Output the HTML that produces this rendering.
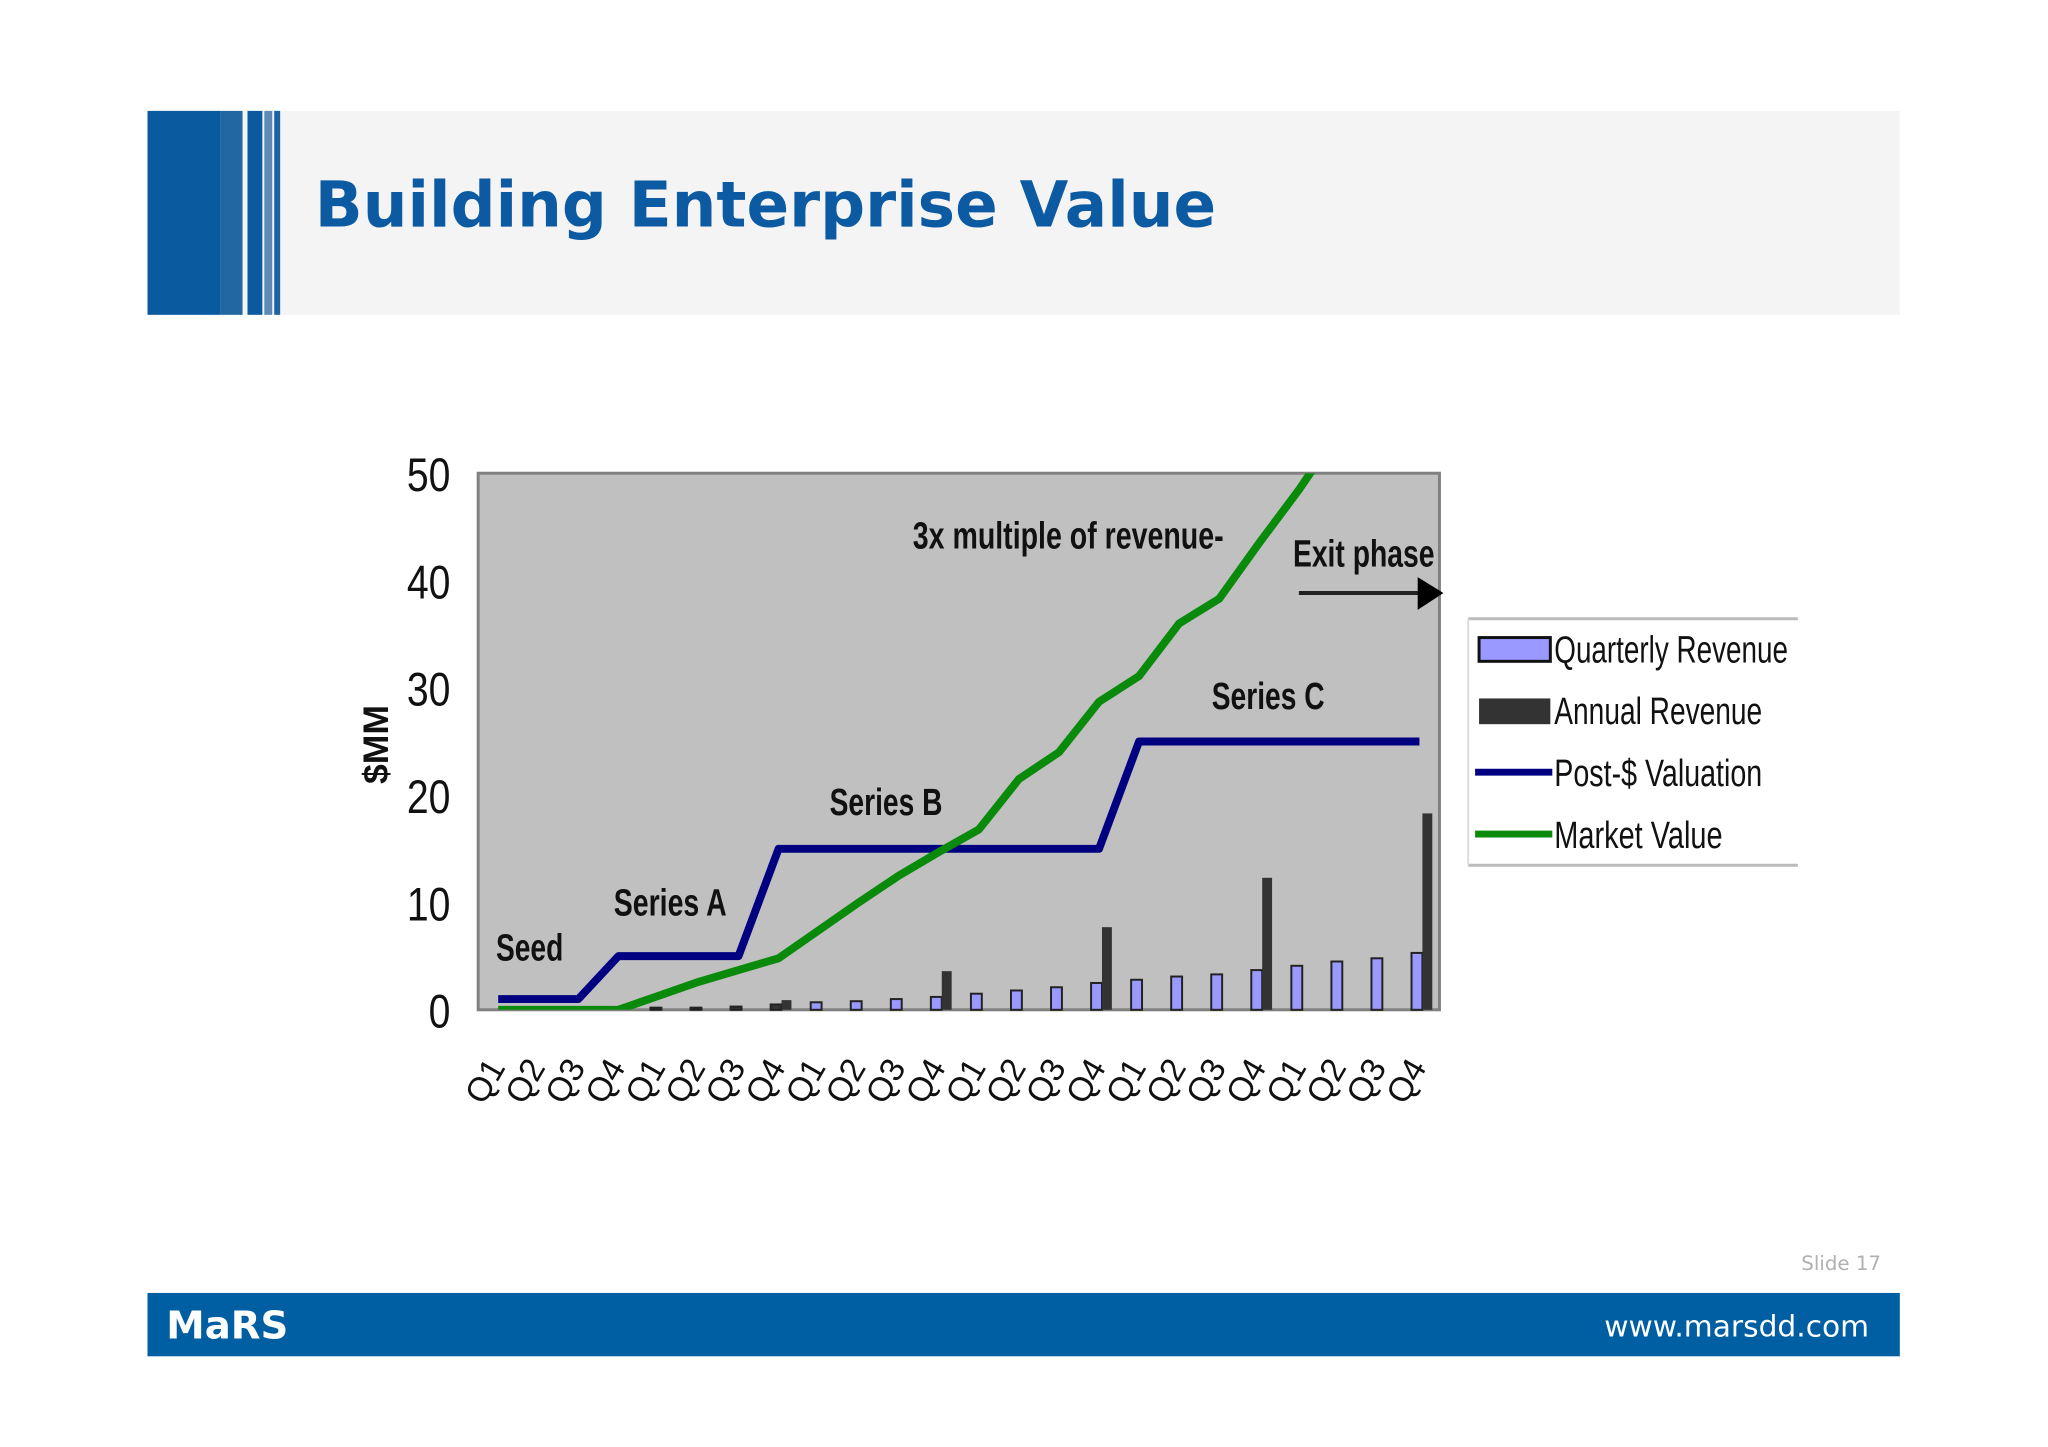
<!DOCTYPE html>
<html><head><meta charset="utf-8"><style>
html,body{margin:0;padding:0;background:#fff;}
svg{display:block;}
</style></head><body>
<svg width="2048" height="1447" viewBox="0 0 2048 1447" xmlns="http://www.w3.org/2000/svg" font-family="Liberation Sans, sans-serif">
<g transform="scale(0.99)">
<g>
<rect x="149" y="112" width="1770" height="206" fill="#f4f4f4"/>
<rect x="149" y="112" width="74" height="206" fill="#0a5aa0"/>
<rect x="223" y="112" width="22" height="206" fill="#2266a2"/>
<rect x="250" y="112" width="15" height="206" fill="#0a5aa0"/>
<rect x="267" y="112" width="8" height="206" fill="#5a8ab8"/>
<rect x="277" y="112" width="6" height="206" fill="#1a62a4"/>
<text x="318" y="229" font-family="DejaVu Sans, sans-serif" font-weight="bold" font-size="63.5" fill="#0b5aa2">Building Enterprise Value</text>
</g>
<g id="chart"></g>
<text x="1900" y="1283" text-anchor="end" font-family="DejaVu Sans, sans-serif" font-size="20" fill="#b0b0b0">Slide 17</text>
<g>
<rect x="149" y="1306" width="1770" height="64" fill="#005ea2"/>
<text x="168" y="1352" font-family="DejaVu Sans, sans-serif" font-weight="bold" font-size="39" fill="#fff">MaRS</text>
<text x="1888" y="1350" text-anchor="end" font-family="DejaVu Sans, sans-serif" font-size="30" fill="#fff">www.marsdd.com</text>
</g>
</g>
</svg>
<script>
const categories=["Q1","Q2","Q3","Q4","Q1","Q2","Q3","Q4","Q1","Q2","Q3","Q4","Q1","Q2","Q3","Q4","Q1","Q2","Q3","Q4","Q1","Q2","Q3","Q4"];
const quarterlyRevenue=[null,null,null,null,0.2,0.2,0.3,0.5,0.7,0.8,1.0,1.2,1.5,1.8,2.1,2.5,2.8,3.1,3.3,3.7,4.1,4.5,4.8,5.3];
const annualRevenue=[null,null,null,null,null,null,null,0.9,null,null,null,3.6,null,null,null,7.7,null,null,null,12.3,null,null,null,18.3];
const postValuation=[1,1,1,5,5,5,5,15,15,15,15,15,15,15,15,15,25,25,25,25,25,25,25,25];
const marketValue=[0,0,0,0,1.3,2.6,3.7,4.8,7.4,10,12.5,14.7,16.8,21.5,24,28.7,31.1,36,38.3,43.5,48.5,54,null,null];
const yTicks=[0,10,20,30,40,50];

const NS="http://www.w3.org/2000/svg";
const root=document.getElementById('chart');
const PX0=483,PX1=1454,PY0=1020,PY1=478,YMAX=50;
const bw=(PX1-PX0)/categories.length;
const xc=i=>PX0+bw*(i+0.5);
const y=v=>PY0-(v/YMAX)*(PY0-PY1);
function mk(tag,attrs,parent){const e=document.createElementNS(NS,tag);for(const k in attrs)e.setAttribute(k,attrs[k]);(parent||root).appendChild(e);return e;}

const clip=mk('clipPath',{id:'pc'});mk('rect',{x:PX0,y:PY1,width:PX1-PX0,height:PY0-PY1},clip);
const plot=mk('rect',{x:PX0,y:PY1,width:PX1-PX0,height:PY0-PY1,fill:'#c0c0c0',stroke:'#808080','stroke-width':3});



yTicks.forEach(t=>{const e=mk('text',{x:455,y:y(t)+18,'text-anchor':'end','font-size':48,fill:'#111',textLength:String(t).length*22,lengthAdjust:'spacingAndGlyphs'});e.textContent=t;

});
const yt=mk('text',{transform:'translate(392,752) rotate(-90)','text-anchor':'middle','font-size':36,'font-weight':'bold',fill:'#111'});yt.textContent='$MM';



categories.forEach((c,i)=>{const e=mk('text',{transform:`translate(${xc(i)+8},1078) rotate(-60)`,'text-anchor':'end','font-size':34,fill:'#111'});e.textContent=c;

});

quarterlyRevenue.forEach((v,i)=>{if(v==null)return;const h=PY0-y(v);const b=mk('rect',{x:xc(i)-8,y:y(v),width:11,height:h,fill:i<8?'#333':'#9999ff',stroke:'#222','stroke-width':2});

});
annualRevenue.forEach((v,i)=>{if(v==null)return;const b=mk('rect',{x:xc(i)+3,y:y(v),width:10,height:PY0-y(v),fill:'#333'});

});

function line(arr,color,name){const pts=[];arr.forEach((v,i)=>{if(v!=null)pts.push(xc(i)+','+y(v));});
const p=mk('polyline',{points:pts.join(' '),fill:'none',stroke:color,'stroke-width':8,'stroke-linejoin':'round','clip-path':'url(#pc)'});

}
line(postValuation,'#000080','post-valuation-line');
line(marketValue,'#0a8a0a','market-value-line');

function ann(txt,x0,yy,len,name){const e=mk('text',{x:x0,y:yy,'font-size':38,'font-weight':'bold',fill:'#111',textLength:len,lengthAdjust:'spacingAndGlyphs'});e.textContent=txt;

}
ann('Seed',501,970,68,'seed-label');
ann('Series A',620,925,114,'series-a-label');
ann('Series B',838,823,114,'series-b-label');
ann('Series C',1224,716,114,'series-c-label');
ann('3x multiple of revenue-',922,554,314,'multiple-label');
ann('Exit phase',1306,572,143,'exit-phase-label');
const ar=mk('line',{x1:1312,y1:599,x2:1435,y2:599,stroke:'#222','stroke-width':4});


const ah=mk('polygon',{points:'1432,583 1458,599 1432,616',fill:'#000'});



const lg=mk('g',{});


mk('rect',{x:1483,y:625,width:333,height:249,fill:'#fff'},lg);
mk('line',{x1:1483,y1:625,x2:1816,y2:625,stroke:'#bbb','stroke-width':3},lg);
mk('line',{x1:1483,y1:874,x2:1816,y2:874,stroke:'#bbb','stroke-width':3},lg);
mk('line',{x1:1483,y1:625,x2:1483,y2:874,stroke:'#ddd','stroke-width':2},lg);
const entries=[['Quarterly Revenue','q'],['Annual Revenue','a'],['Post-$ Valuation','p'],['Market Value','m']];
entries.forEach((e,k)=>{const cy=655+k*62.5;const g=mk('g',{},lg);


if(e[1]=='q')mk('rect',{x:1494,y:cy-11,width:72,height:24,fill:'#9999ff',stroke:'#111','stroke-width':3},g);
if(e[1]=='a')mk('rect',{x:1494,y:cy-12,width:72,height:26,fill:'#333'},g);
if(e[1]=='p')mk('line',{x1:1490,y1:cy,x2:1568,y2:cy,stroke:'#000080','stroke-width':7},g);
if(e[1]=='m')mk('line',{x1:1490,y1:cy,x2:1568,y2:cy,stroke:'#0a8a0a','stroke-width':7},g);
const t=mk('text',{x:1570,y:cy+14,'font-size':38,fill:'#111',textLength:[236,210,210,170][k],lengthAdjust:'spacingAndGlyphs'},g);t.textContent=e[0];});
</script>
</body></html>
